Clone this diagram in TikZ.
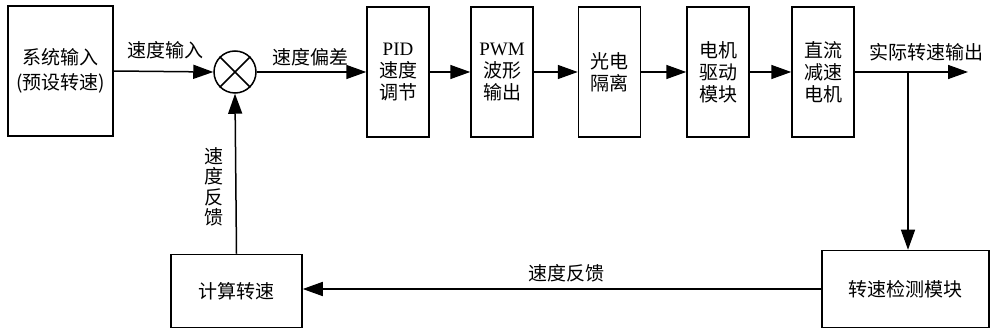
\documentclass[tikz,border=0pt]{standalone}
\usepackage{fontspec}
\setmainfont{Liberation Serif}
\newfontfamily\cjk{Noto Sans CJK SC}
\usetikzlibrary{arrows.meta}
\begin{document}
\begin{tikzpicture}[x=1pt,y=-1pt,
  every node/.style={font=\cjk\fontsize{19}{22}\selectfont, inner sep=0pt},
  blk/.style={draw, line width=1.5pt, align=center},
  tall/.style={blk, minimum width=62pt, minimum height=130pt},
  conn/.style={line width=1.5pt},
  arr/.style={conn, -{Triangle[length=20pt,width=14pt]}},
  lbl/.style={align=center}]
\useasboundingbox (0,0) rectangle (991,331);
\node[blk, minimum width=105pt, minimum height=130pt, font=\cjk\fontsize{19}{25}\selectfont] (sys) at (60.5,71)
  {系统输入\\(预设转速)};
\node[draw, circle, line width=1.5pt, minimum size=42pt] (sum) at (235,72) {};
\draw[conn] (sum.north west) -- (sum.south east);
\draw[conn] (sum.north east) -- (sum.south west);
\node[tall] (pid) at (398,72) {{\rmfamily PID}\\速度\\调节};
\node[tall] (pwm) at (502,72) {{\rmfamily PWM}\\波形\\输出};
\node[tall] (opto) at (609.5,72) {光电\\隔离};
\node[tall] (drv) at (718,72) {电机\\驱动\\模块};
\node[tall] (mot) at (823,72) {直流\\减速\\电机};
\node[blk, minimum width=167pt, minimum height=77pt] (det) at (905.5,289) {转速检测模块};
\node[blk, minimum width=131pt, minimum height=73pt] (calc) at (236.5,291) {计算转速};
\coordinate (br) at (908,72);
\coordinate (out) at (968,72);
\draw[arr] (sys.east) -- (sum.west);
\draw[arr] (sum.east) -- (pid.west);
\draw[arr] (pid.east) -- (pwm.west);
\draw[arr] (pwm.east) -- (opto.west);
\draw[arr] (opto.east) -- (drv.west);
\draw[arr] (drv.east) -- (mot.west);
\draw[arr] (mot.east) -- (out);
\draw[arr] (br) -- (br |- det.north);
\draw[arr] (det.west) -- (det.west -| calc.east);
\draw[arr] (calc.north) -- (sum.south);
\node[lbl] (l1) at (165,50) {速度输入};
\node[lbl] (l2) at (310,57) {速度偏差};
\node[lbl] (l3) at (926,52) {实际转速输出};
\node[lbl, font=\cjk\fontsize{19}{20.5}\selectfont] (l4) at (214,187) {速\\度\\反\\馈};
\node[lbl] (l5) at (566,273) {速度反馈};
\end{tikzpicture}
\end{document}
